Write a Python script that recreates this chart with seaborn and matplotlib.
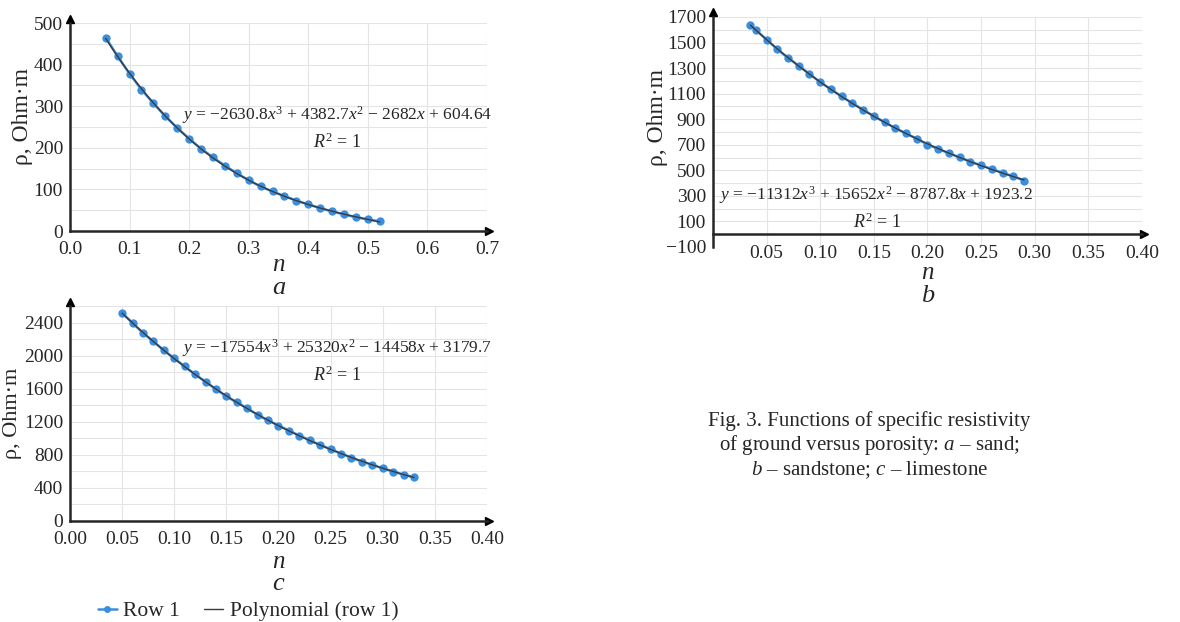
# Resistivity of ground vs porosity: sand, sandstone, limestone with cubic trend lines

import numpy as np
import pandas as pd
import matplotlib
matplotlib.use("Agg")
import matplotlib.pyplot as plt
import seaborn as sns
from matplotlib.ticker import MultipleLocator, FixedLocator

# Data
sand_n = [0.06, 0.08, 0.10, 0.12, 0.14, 0.16, 0.18, 0.20, 0.22, 0.24, 0.26, 0.28,
          0.30, 0.32, 0.34, 0.36, 0.38, 0.40, 0.42, 0.44, 0.46, 0.48, 0.50, 0.52]
sand_rho = [465, 420, 378, 340, 307, 276, 248, 222, 198, 177, 157, 139,
            122, 107, 95, 84, 73, 64, 55, 47, 40, 33, 28, 23]

sandstone_n = [0.035, 0.04, 0.05, 0.06, 0.07, 0.08, 0.09, 0.10, 0.11, 0.12, 0.13, 0.14,
               0.15, 0.16, 0.17, 0.18, 0.19, 0.20, 0.21, 0.22, 0.23, 0.24, 0.25, 0.26,
               0.27, 0.28, 0.29]
sandstone_rho = [1637, 1598, 1523, 1447, 1380, 1318, 1254, 1190, 1134, 1078, 1025, 973,
                 925, 876, 830, 789, 747, 702, 667, 634, 601, 568, 539, 510,
                 480, 453, 420]

limestone_n = [0.05, 0.06, 0.07, 0.08, 0.09, 0.10, 0.11, 0.12, 0.13, 0.14, 0.15, 0.16,
               0.17, 0.18, 0.19, 0.20, 0.21, 0.22, 0.23, 0.24, 0.25, 0.26, 0.27, 0.28,
               0.29, 0.30, 0.31, 0.32, 0.33]
limestone_rho = [2521, 2400, 2279, 2177, 2068, 1971, 1874, 1777, 1688, 1598, 1510, 1437,
                 1364, 1287, 1218, 1157, 1095, 1036, 978, 922, 870, 817, 768, 720,
                 680, 639, 599, 562, 530]

equations = [
    r"$y$ = −2630.8$x^3$ + 4382.7$x^2$ − 2682$x$ + 604.64",
    r"$y$ = −11312$x^3$ + 15652$x^2$ − 8787.8$x$ + 1923.2",
    r"$y$ = −17554$x^3$ + 25320$x^2$ − 14458$x$ + 3179.7",
]

blue = "#3b8ede"
trend = "#3a3a3a"
grid_c = "#e4e4e4"

sns.set_style("white")
plt.rcParams["font.family"] = ["Liberation Serif", "DejaVu Serif"]
plt.rcParams["mathtext.fontset"] = "custom"
plt.rcParams["mathtext.rm"] = "Liberation Serif"
plt.rcParams["mathtext.it"] = "Liberation Serif:italic"

fig = plt.figure(figsize=(11.8, 6.22), dpi=100)

ax_a = fig.add_axes([0.0593, 0.6286, 0.3534, 0.3344])
ax_b = fig.add_axes([0.6042, 0.6029, 0.3636, 0.3698])
ax_c = fig.add_axes([0.0593, 0.1624, 0.3534, 0.3449])


def draw(ax, n, rho):
    df = pd.DataFrame({"n": n, "rho": rho})
    sns.lineplot(data=df, x="n", y="rho", ax=ax, color=blue, lw=1.8,
                 marker="o", markersize=6, markeredgewidth=0, zorder=3)
    sns.regplot(data=df, x="n", y="rho", ax=ax, order=3, ci=None, scatter=False,
                line_kws={"color": trend, "lw": 1.0, "zorder": 4})


def style(ax, xlim, ylim):
    ax.set_xlim(*xlim)
    ax.set_ylim(*ylim)
    ax.grid(True, which="both", color=grid_c, lw=0.8)
    ax.set_axisbelow(True)
    for s in ["top", "right"]:
        ax.spines[s].set_visible(False)
    ax.spines["left"].set_linewidth(1.8)
    ax.spines["bottom"].set_linewidth(1.8)
    ax.spines["bottom"].set_position(("data", 0))
    ax.tick_params(which="both", length=0, labelsize=14, pad=5)
    ax.tick_params(axis="x", which="both", pad=7)
    ax.set_xlabel("")
    ax.set_ylabel("")
    ax.plot(1.005, 0, ">", color="black", ms=6, transform=ax.get_yaxis_transform(), clip_on=False)
    ax.plot(0, 1.02, "^", color="black", ms=6, transform=ax.get_xaxis_transform(), clip_on=False)


# a - sand
draw(ax_a, sand_n, sand_rho)
style(ax_a, (0, 0.7), (0, 500))
ax_a.xaxis.set_major_locator(MultipleLocator(0.1))
ax_a.yaxis.set_major_locator(MultipleLocator(100))
ax_a.yaxis.set_minor_locator(MultipleLocator(50))
ax_a.set_xticklabels([f"{v:.1f}" for v in ax_a.get_xticks()])

# b - sandstone
draw(ax_b, sandstone_n, sandstone_rho)
style(ax_b, (0, 0.4), (-100, 1700))
ax_b.xaxis.set_major_locator(FixedLocator([0.05, 0.10, 0.15, 0.20, 0.25, 0.30, 0.35, 0.40]))
ax_b.xaxis.set_minor_locator(FixedLocator([0.0]))
ax_b.set_xticklabels([f"{v:.2f}" for v in ax_b.get_xticks()])
ax_b.yaxis.set_major_locator(FixedLocator(list(range(-100, 1701, 200))))
ax_b.yaxis.set_minor_locator(FixedLocator(list(range(0, 1601, 200))))
ax_b.set_yticklabels(["−100"] + [str(v) for v in range(100, 1701, 200)])
ax_b.tick_params(axis="x", which="both", pad=8)

# c - limestone
draw(ax_c, limestone_n, limestone_rho)
style(ax_c, (0, 0.4), (0, 2600))
ax_c.xaxis.set_major_locator(MultipleLocator(0.05))
ax_c.set_xticklabels([f"{v:.2f}" for v in ax_c.get_xticks()])
ax_c.yaxis.set_major_locator(FixedLocator(list(range(0, 2401, 400))))
ax_c.yaxis.set_minor_locator(FixedLocator(list(range(200, 2601, 400))))

# labels, letters, equations
for ax, letter, ylab_y, xlab_y, let_y, ylab_x, ylab_fs, eq, eq_pos, r2_pos in [
    (ax_a, "a", 0.55, -0.165, -0.275, -0.115, 17, equations[0], (0.64, 0.558), (0.64, 0.428)),
    (ax_b, "b", 0.565, -0.115, -0.215, -0.13, 17, equations[1], (0.38, 0.226), (0.382, 0.109)),
    (ax_c, "c", 0.50, -0.19, -0.295, -0.138, 16, equations[2], (0.64, 0.807), (0.64, 0.681)),
]:
    ax.text(ylab_x, ylab_y, "ρ, Ohm·m", rotation=90, ha="center", va="center",
            fontsize=ylab_fs, transform=ax.transAxes)
    ax.text(0.5, xlab_y, "n", style="italic", ha="center", va="center",
            fontsize=18, transform=ax.transAxes)
    ax.text(0.5, let_y, letter, style="italic", ha="center", va="center",
            fontsize=19, transform=ax.transAxes)
    ax.text(*eq_pos, eq, ha="center", va="center", fontsize=12.5, transform=ax.transAxes,
            zorder=5)
    ax.text(*r2_pos, r"$R^2$ = 1", ha="center", va="center", fontsize=13,
            transform=ax.transAxes, zorder=5)

# caption
fig.text(0.737, 1 - 446 / 622,
         "Fig. 3. Functions of specific resistivity\n"
         r"of ground versus porosity: $a$ – sand;" "\n"
         r"$b$ – sandstone; $c$ – limestone",
         ha="center", va="center", fontsize=15, linespacing=1.15)

# legend
handles = [
    plt.Line2D([], [], color=blue, lw=1.8, marker="o", ms=5, markeredgewidth=0),
    plt.Line2D([], [], color=trend, lw=1.0),
]
fig.legend(handles, ["Row 1", "Polynomial (row 1)"], loc="center",
           bbox_to_anchor=(248 / 1180, 1 - 611 / 622), ncol=2, frameon=False,
           fontsize=15.5, handlelength=0.9, handletextpad=0.3, columnspacing=1.1)

plt.savefig("out.png", dpi=100)
plt.close()
